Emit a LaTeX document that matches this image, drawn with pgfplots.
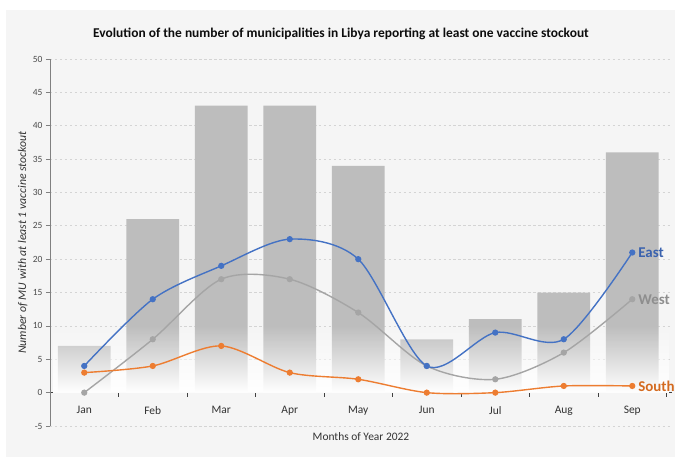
\documentclass[border=0pt]{standalone}
\usepackage{fontspec}
\setmainfont{Carlito}
\usepackage{pgfplots}
\pgfplotsset{compat=1.18}
\usetikzlibrary{fadings,backgrounds,calc}
\definecolor{eastc}{HTML}{4472C4}
\definecolor{westc}{HTML}{A5A5A5}
\definecolor{southc}{HTML}{ED7D31}
\definecolor{eastlab}{HTML}{3A62AE}
\definecolor{westlab}{HTML}{8E8E8E}
\definecolor{southlab}{HTML}{D46A1F}
\definecolor{barc}{HTML}{BDBDBD}
\definecolor{panel}{HTML}{F5F5F5}

\begin{document}
\begin{tikzpicture}
\begin{axis}[
  name=ax,
  scale only axis,
  width=622bp, height=367bp,
  clip=false,
  xmin=-0.5, xmax=8.58,
  ymin=-5, ymax=50,
  axis x line=middle,
  axis y line=left,
  axis line style={-},
  x axis line style={black!75, line width=0.9pt},
  y axis line style={black!50, line width=0.9pt},
  tick align=outside,
  major tick length=4bp,
  hide obscured y ticks=false,
  hide obscured x ticks=false,
  xtick={0.5,1.5,...,8.5},
  xticklabels={},
  xtick style={black!75, line width=0.9pt},
  extra x ticks={0,...,8},
  extra x tick labels={Jan,Feb,Mar,Apr,May,Jun,Jul,Aug,Sep},
  extra x tick style={major tick length=0pt,
    tick label style={font=\fontsize{11.5}{13}\selectfont, text=black!80, yshift=-10bp}},
  ytick={-5,0,...,50},
  ytick style={black!50, line width=0.8pt},
  y tick label style={font=\fontsize{9.5}{10}\selectfont, text=black!70},
  /pgf/number format/assume math mode=true,
  ymajorgrids,
  grid style={dash pattern=on 2.5pt off 2.5pt, black!17, line width=0.7pt},
  title={Evolution of the number of municipalities in Libya reporting at least one vaccine stockout},
  title style={font=\bfseries\fontsize{13.5}{15}\selectfont, text=black!95, xshift=-20bp, yshift=10bp},
  xlabel={Months of Year 2022},
  xlabel style={at={(axis description cs:0.5,0)}, anchor=north, yshift=-3bp,
    font=\fontsize{11.5}{13}\selectfont, text=black!80},
  ylabel={Number of MU with at least 1 vaccine stockout},
  ylabel style={at={(axis description cs:-0.044,0.5)}, anchor=center,
    font=\itshape\fontsize{11.8}{13}\selectfont, text=black!80},
]
% total municipalities reporting a stockout
\addplot[ybar, bar width=0.77, fill=barc, draw=none]
  coordinates {(0,7) (1,26) (2,43) (3,43) (4,34) (5,8) (6,11) (7,15) (8,36)};

% fade the bars out towards the baseline
\fill[white, path fading=north] (axis cs:-0.45,0) rectangle (axis cs:8.55,10);

\addplot[westc, line width=1.4pt, smooth, mark=*, mark size=2.4pt]
  coordinates {(0,0) (1,8) (2,17) (3,17) (4,12) (5,4) (6,2) (7,6) (8,14)}
  node[pos=1, anchor=west, xshift=2bp, font=\bfseries\fontsize{15}{15}\selectfont, text=westlab] {West};
\addplot[southc, line width=1.4pt, smooth, mark=*, mark size=2.4pt]
  coordinates {(0,3) (1,4) (2,7) (3,3) (4,2) (5,0) (6,0) (7,1) (8,1)}
  node[pos=1, anchor=west, xshift=2bp, font=\bfseries\fontsize{15}{15}\selectfont, text=southlab] {South};
\addplot[eastc, line width=1.4pt, smooth, mark=*, mark size=2.4pt]
  coordinates {(0,4) (1,14) (2,19) (3,23) (4,20) (5,4) (6,9) (7,8) (8,21)}
  node[pos=1, anchor=west, xshift=2bp, font=\bfseries\fontsize{15}{15}\selectfont, text=eastlab] {East};
\end{axis}
\begin{scope}[on background layer]
  \fill[white] ($(ax.south west)+(-50bp,-31bp)$) rectangle ($(ax.north east)+(3bp,59bp)$);
  \fill[panel] ($(ax.south west)+(-44bp,-31bp)$) rectangle ($(ax.north east)+(3bp,49bp)$);
\end{scope}
\pgfresetboundingbox
\useasboundingbox ($(ax.south west)+(-50bp,-31bp)$) rectangle ($(ax.north east)+(3bp,59bp)$);
\end{tikzpicture}
\end{document}
